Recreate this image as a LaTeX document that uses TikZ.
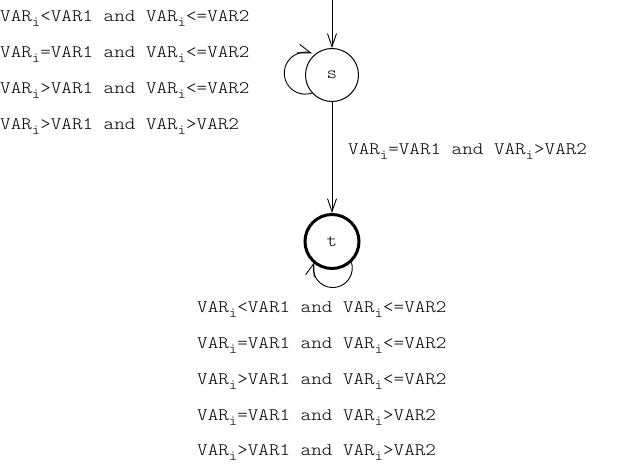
\documentclass[tikz,border=0pt]{standalone}
\usepackage{fontspec}
\setmonofont{Latin Modern Mono Light}[FakeStretch=1.15]
\usetikzlibrary{arrows.meta}
\newcommand\vsub[1]{\raisebox{-0.28em}{\fontsize{14}{14}\selectfont #1}}
\newcommand\VARi{VAR\vsub{i}}
\begin{document}
\begin{tikzpicture}[x=1pt,y=1pt,
  state/.style={circle, draw, line width=1pt, minimum size=53pt, inner sep=0pt, font=\ttfamily\fontsize{17.5}{17.5}\selectfont},
  final/.style={state, line width=3pt, minimum size=54pt},
  arr/.style={line width=0.9pt, -{Straight Barb[length=13pt,width=9pt]}},
  lbl/.style={font=\ttfamily\fontsize{17.5}{17.5}\selectfont, inner sep=0pt, anchor=base west}]
\useasboundingbox (0,0) rectangle (625,464);
\node[state] (s) at (332,389) {s};
\node[final] (t) at (332,222.5) {t};
\coordinate (in) at (332,464);
\draw[arr] (in) -- (s);
\draw[arr] (s) -- (t);
\draw[arr] (s.222.5) arc[start angle=288.6, end angle=71.4, radius=21];
\draw[arr] (t.-47) arc[start angle=17, end angle=-197, radius=19.5];
% labels of the loop on s
\node[lbl] (ls1) at (0,442) {\VARi<VAR1 and \VARi<=VAR2};
\node[lbl] (ls2) at (0,406) {\VARi=VAR1 and \VARi<=VAR2};
\node[lbl] (ls3) at (0,370) {\VARi>VAR1 and \VARi<=VAR2};
\node[lbl] (ls4) at (0,334) {\VARi>VAR1 and \VARi>VAR2};
% label of s -> t
\node[lbl] (lst) at (348,309) {\VARi=VAR1 and \VARi>VAR2};
% labels of the loop on t
\node[lbl] (lt1) at (197,151) {\VARi<VAR1 and \VARi<=VAR2};
\node[lbl] (lt2) at (197,115.25) {\VARi=VAR1 and \VARi<=VAR2};
\node[lbl] (lt3) at (197,79.5) {\VARi>VAR1 and \VARi<=VAR2};
\node[lbl] (lt4) at (197,43.75) {\VARi=VAR1 and \VARi>VAR2};
\node[lbl] (lt5) at (197,8) {\VARi>VAR1 and \VARi>VAR2};
\end{tikzpicture}
\end{document}
